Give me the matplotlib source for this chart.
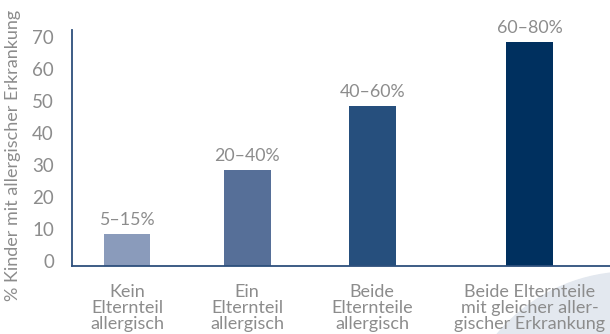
import matplotlib.pyplot as plt
import matplotlib.transforms as mtransforms
from matplotlib.patches import Ellipse

categories = ["Kein\nElternteil\nallergisch",
              "Ein\nElternteil\nallergisch",
              "Beide\nElternteile\nallergisch",
              "Beide Elternteile\nmit gleicher aller-\ngischer Erkrankung"]
values = [10, 30, 50, 70]
bar_labels = ["5\u201315%", "20\u201340%", "40\u201360%", "60\u201380%"]
yticks = [0, 10, 20, 30, 40, 50, 60, 70]

colors = ["#8a9bbb", "#566f98", "#264f7d", "#00305f"]
gray = "#8c8c8c"
axis_col = "#2d4f7c"

plt.rcParams['font.family'] = ['Lato', 'DejaVu Sans']

fig = plt.figure(figsize=(6.10, 3.34), dpi=100)

# decorative light circle in the bottom right corner
W, H = 610, 334
circ = Ellipse((630 / W, (334 - 445) / H), 2 * 173 / W, 2 * 173 / H,
               transform=fig.transFigure, color="#e3e8ef", zorder=0)
fig.patches.append(circ)

ax = fig.add_axes([72 / W, (334 - 266) / H, (610 - 72) / W, (266 - 30) / H])
ax.patch.set_alpha(0)
ax.set_zorder(2)

x = [0, 1, 2.04, 3.35]
bars = ax.bar(x, values, width=0.39, color=colors, zorder=2)

for b, lab in zip(bars, bar_labels):
    ax.annotate(lab, (b.get_x() + b.get_width() / 2, b.get_height()),
                xytext=(0, 4), textcoords="offset points",
                ha="center", va="bottom", fontsize=12.8, color=gray)

ax.set_xlim(-0.458, 4.02)
ax.set_ylim(0, 73.75)
ax.set_yticks(yticks)
ax.set_xticks(x)
ax.set_xticklabels(categories, linespacing=1.0)
ax.tick_params(axis="y", length=0, pad=13, labelsize=13.5, labelcolor=gray)
ax.tick_params(axis="x", length=0, pad=13, labelsize=13, labelcolor=gray)

# nudge y tick labels up a little, like in the original
offset = mtransforms.ScaledTranslation(0, 5 / 100, fig.dpi_scale_trans)
for t in ax.get_yticklabels():
    t.set_transform(t.get_transform() + offset)

for s in ["top", "right"]:
    ax.spines[s].set_visible(False)
for s in ["left", "bottom"]:
    ax.spines[s].set_color(axis_col)
    ax.spines[s].set_linewidth(1.3)

fig.text(13 / W, 0.535, "% Kinder mit allergischer Erkrankung", rotation=90,
         ha="center", va="center", fontsize=13, color=gray)

fig.savefig("out.png", dpi=100)
